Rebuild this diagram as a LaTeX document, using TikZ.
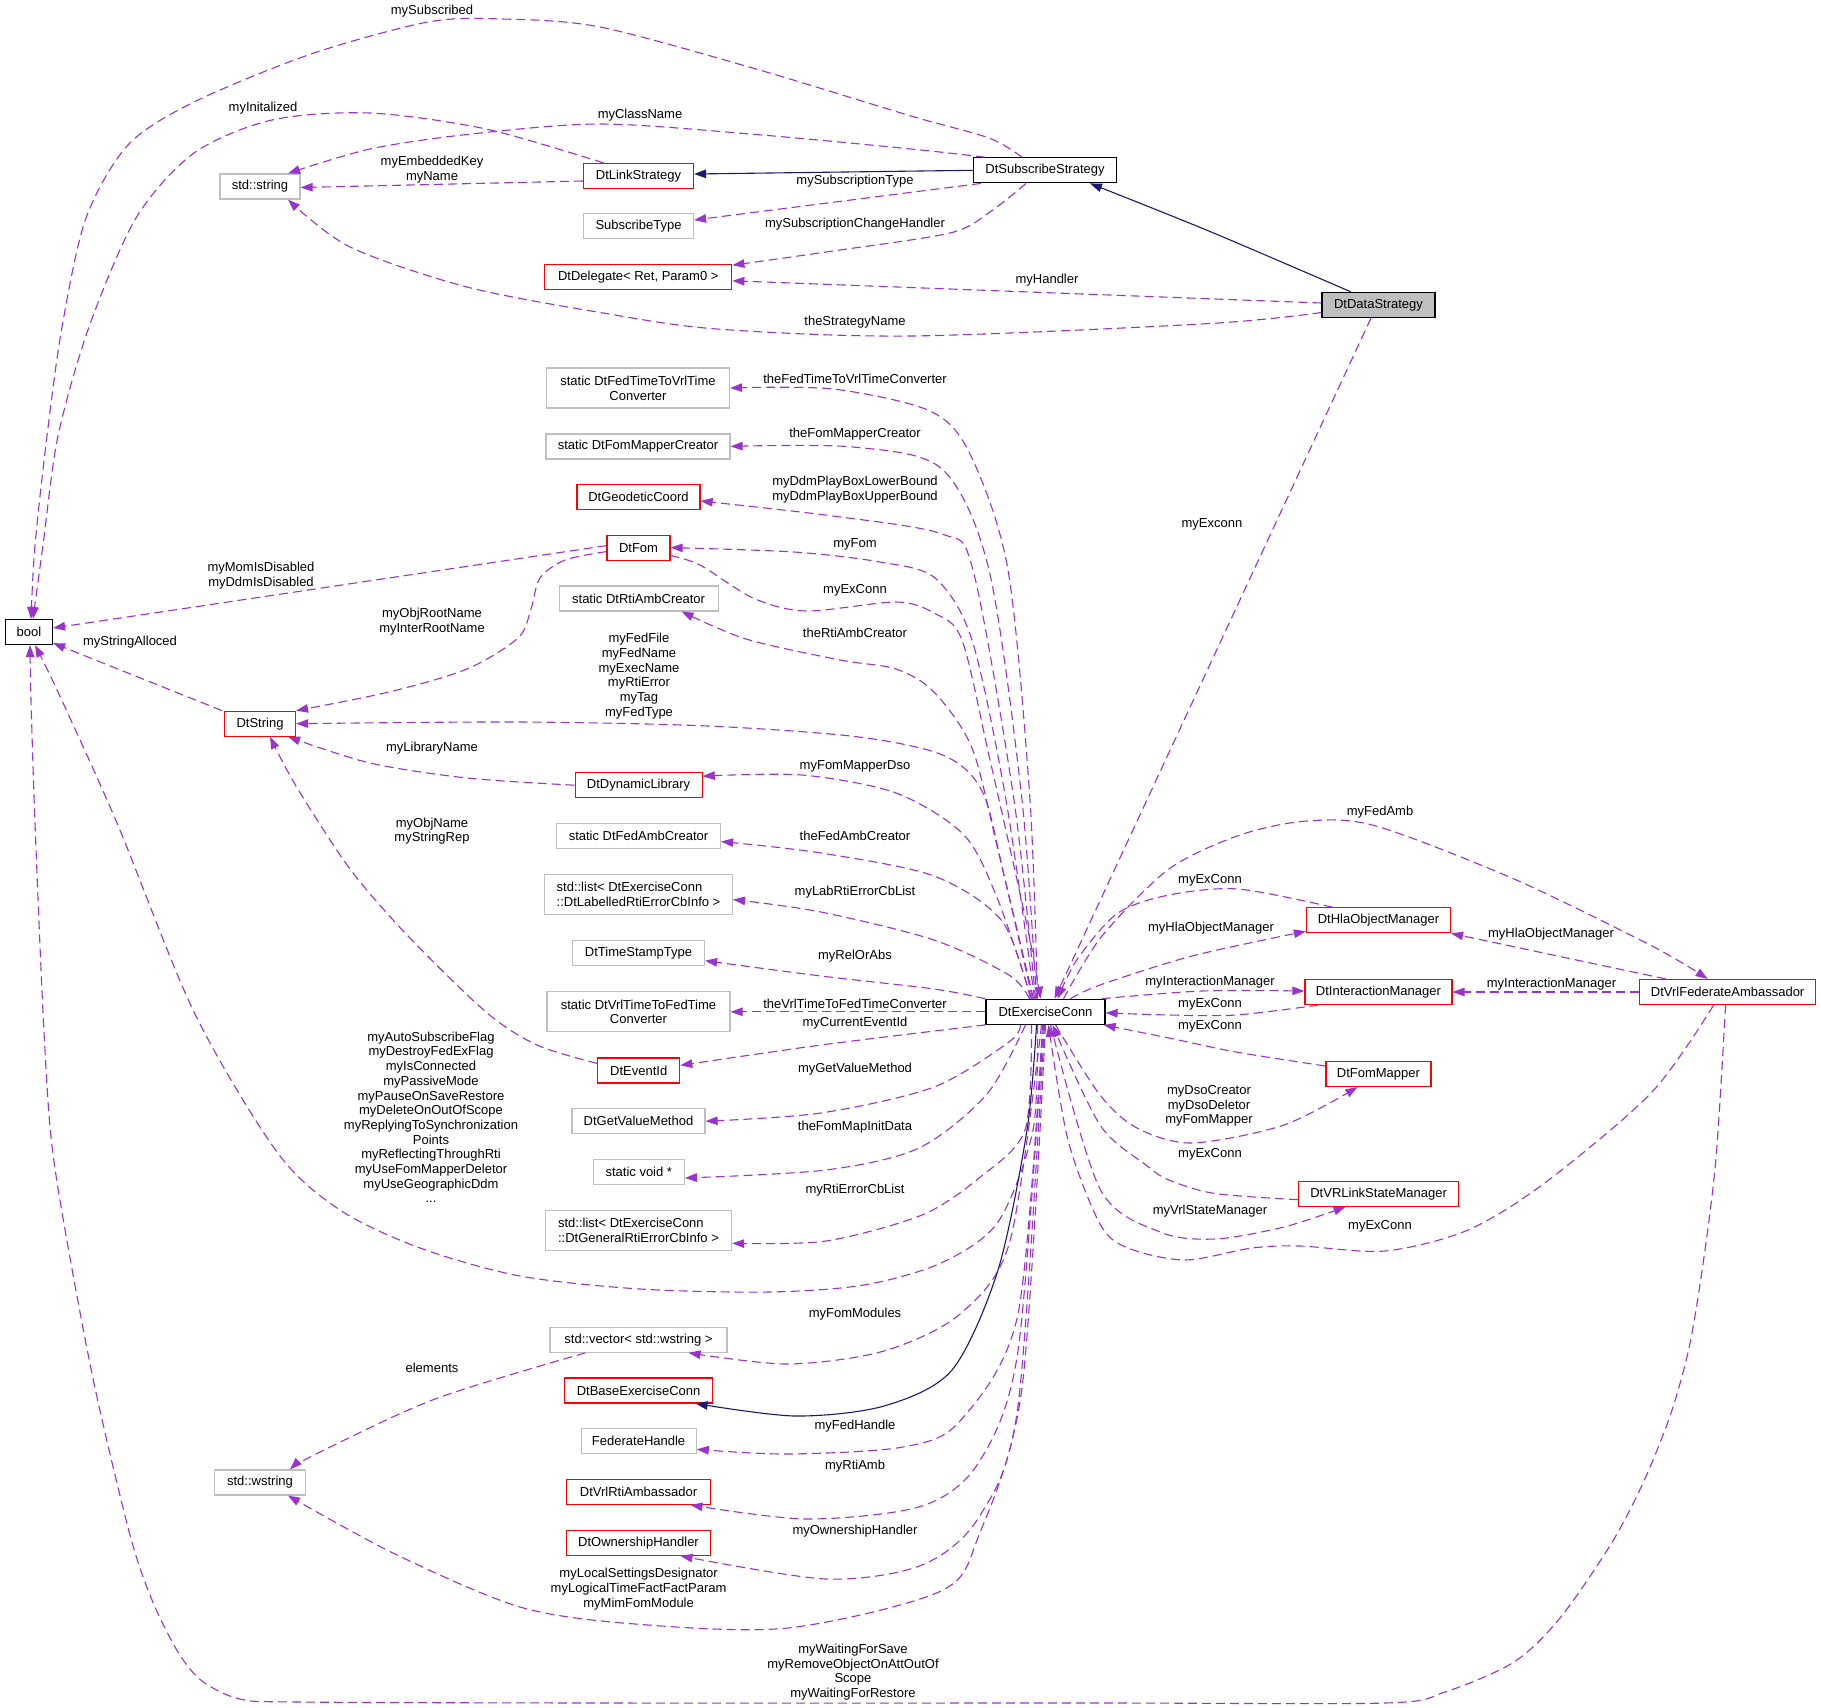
\documentclass[tikz,border=0pt]{standalone}
\usepackage{fontspec}
\setmainfont{Liberation Sans}
\usetikzlibrary{arrows.meta}
\definecolor{pur}{HTML}{9A32CD}
\definecolor{nav}{HTML}{191970}
\definecolor{gbd}{HTML}{BFBFBF}
\definecolor{rbd}{HTML}{FF0000}
\begin{document}
\begin{tikzpicture}[x=1pt,y=-1pt,
  font=\fontsize{13}{14.7}\selectfont,
  box/.style={draw, line width=1.2pt, minimum height=25pt, inner xsep=3pt, inner ysep=0pt, align=center},
  gbox/.style={box, draw=gbd},
  rbox/.style={box, draw=rbd},
  kbox/.style={box, draw=black},
  lbl/.style={inner sep=0pt, align=center},
  dep/.style={color=pur, line width=1.1pt, dash pattern=on 9pt off 5pt, -{Triangle[length=12pt,width=8.5pt]}},
  inh/.style={color=nav, line width=1.1pt, -{Triangle[length=12pt,width=8.5pt]}}]
\useasboundingbox (0,0) rectangle (1821,1708);

% ---------- nodes ----------
\node[kbox, minimum width=47pt] (bool) at (29,632) {bool};
\node[gbox, minimum width=80pt] (sstr) at (260,186.5) {std::string};
\node[rbox, minimum width=110pt] (link) at (638.5,176) {DtLinkStrategy};
\node[kbox, minimum width=143pt] (subs) at (1045,170.3) {DtSubscribeStrategy};
\node[gbox, minimum width=110pt] (stype) at (638.5,226) {SubscribeType};
\node[rbox, minimum width=187pt] (dele) at (638.3,277.3) {DtDelegate< Ret, Param0 >};
\node[kbox, fill=gbd, minimum width=113pt] (data) at (1378.5,305) {DtDataStrategy};
\node[gbox, minimum width=183pt, minimum height=40pt] (fedtt) at (638,388) {static DtFedTimeToVrlTime\\Converter};
\node[gbox, minimum width=184pt] (fmc) at (638,446.4) {static DtFomMapperCreator};
\node[rbox, minimum width=123pt] (geo) at (638.5,497) {DtGeodeticCoord};
\node[rbox, minimum width=63pt] (fom) at (638.5,547.6) {DtFom};
\node[gbox, minimum width=159pt] (rtic) at (638.6,598.4) {static DtRtiAmbCreator};
\node[rbox, minimum width=71pt] (dtstr) at (260,723.7) {DtString};
\node[rbox, minimum width=127pt] (dyn) at (638.6,785.2) {DtDynamicLibrary};
\node[gbox, minimum width=164pt] (fac) at (638.5,836) {static DtFedAmbCreator};
\node[gbox, minimum width=188pt, minimum height=40pt, align=left] (llist) at (638.5,894.5) {std::list< DtExerciseConn\\::DtLabelledRtiErrorCbInfo >};
\node[gbox, minimum width=132pt] (tst) at (638.5,953.2) {DtTimeStampType};
\node[gbox, minimum width=183pt, minimum height=40pt] (vrlt) at (638.5,1011.8) {static DtVrlTimeToFedTime\\Converter};
\node[kbox, minimum width=119pt] (ex) at (1045.5,1011.8) {DtExerciseConn};
\node[rbox, minimum width=82pt] (evt) at (638.7,1070.4) {DtEventId};
\node[gbox, minimum width=133pt] (gvm) at (638.5,1121.2) {DtGetValueMethod};
\node[gbox, minimum width=91pt] (svoid) at (638.8,1172) {static void *};
\node[gbox, minimum width=186pt, minimum height=40pt, align=left] (glist) at (638.5,1230.3) {std::list< DtExerciseConn\\::DtGeneralRtiErrorCbInfo >};
\node[gbox, minimum width=177pt] (vec) at (638.5,1339.7) {std::vector< std::wstring >};
\node[rbox, minimum width=148pt] (base) at (638.6,1390.4) {DtBaseExerciseConn};
\node[gbox, minimum width=115pt] (fedh) at (638.6,1441.3) {FederateHandle};
\node[rbox, minimum width=144pt] (vrti) at (638.5,1491.8) {DtVrlRtiAmbassador};
\node[rbox, minimum width=144pt] (own) at (638.5,1542.7) {DtOwnershipHandler};
\node[gbox, minimum width=91pt] (wstr) at (260,1482.5) {std::wstring};
\node[rbox, minimum width=144pt] (hla) at (1378.5,920.3) {DtHlaObjectManager};
\node[rbox, minimum width=147pt] (inter) at (1378.4,992) {DtInteractionManager};
\node[rbox, minimum width=176pt] (vfa) at (1727.6,992) {DtVrlFederateAmbassador};
\node[rbox, minimum width=105pt] (fmap) at (1378.4,1074) {DtFomMapper};
\node[rbox, minimum width=160pt] (vls) at (1378.6,1193.7) {DtVRLinkStateManager};

% ---------- labels ----------
\node[lbl] (l1) at (432,11.6) {mySubscribed};
\node[lbl] (l2) at (263,108.3) {myInitalized};
\node[lbl] (l3) at (640,115.6) {myClassName};
\node[lbl] (l4) at (432,169.6) {myEmbeddedKey\\myName};
\node[lbl] (l5) at (855,180.7) {mySubscriptionType};
\node[lbl] (l6) at (855,224.6) {mySubscriptionChangeHandler};
\node[lbl] (l7) at (1047,280.6) {myHandler};
\node[lbl] (l8) at (855,322.4) {theStrategyName};
\node[lbl] (l9) at (855,378.8) {theFedTimeToVrlTimeConverter};
\node[lbl] (l10) at (855,434.4) {theFomMapperCreator};
\node[lbl] (l11) at (855,489.5) {myDdmPlayBoxLowerBound\\myDdmPlayBoxUpperBound};
\node[lbl] (l12) at (855,544.5) {myFom};
\node[lbl] (l13) at (1212,524) {myExconn};
\node[lbl] (l14) at (261,575.8) {myMomIsDisabled\\myDdmIsDisabled};
\node[lbl] (l15) at (432,621.5) {myObjRootName\\myInterRootName};
\node[lbl] (l16) at (130,642.4) {myStringAlloced};
\node[lbl] (l17) at (855,590) {myExConn};
\node[lbl] (l18) at (855,632.6) {theRtiAmbCreator};
\node[lbl] (l19) at (639,676.1) {myFedFile\\myFedName\\myExecName\\myRtiError\\myTag\\myFedType};
\node[lbl] (l20) at (432,748.5) {myLibraryName};
\node[lbl] (l21) at (855,766.6) {myFomMapperDso};
\node[lbl] (l22) at (432,831) {myObjName\\myStringRep};
\node[lbl] (l23) at (855,835.5) {theFedAmbCreator};
\node[lbl] (l24) at (855,892.6) {myLabRtiErrorCbList};
\node[lbl] (l25) at (855,956.6) {myRelOrAbs};
\node[lbl] (l26) at (855,1003.7) {theVrlTimeToFedTimeConverter};
\node[lbl] (l27) at (855,1023.6) {myCurrentEventId};
\node[lbl] (l28) at (855,1068.7) {myGetValueMethod};
\node[lbl] (l29) at (855,1127.5) {theFomMapInitData};
\node[lbl] (l30) at (431,1117.4) {myAutoSubscribeFlag\\myDestroyFedExFlag\\myIsConnected\\myPassiveMode\\myPauseOnSaveRestore\\myDeleteOnOutOfScope\\myReplyingToSynchronization\\Points\\myReflectingThroughRti\\myUseFomMapperDeletor\\myUseGeographicDdm\\...};
\node[lbl] (l31) at (855,1190) {myRtiErrorCbList};
\node[lbl] (l32) at (855,1314.3) {myFomModules};
\node[lbl] (l33) at (432,1367.7) {elements};
\node[lbl] (l34) at (855,1426.4) {myFedHandle};
\node[lbl] (l35) at (855,1466.5) {myRtiAmb};
\node[lbl] (l36) at (855,1530.7) {myOwnershipHandler};
\node[lbl] (l37) at (638.6,1589) {myLocalSettingsDesignator\\myLogicalTimeFactFactParam\\myMimFomModule};
\node[lbl] (l38) at (853,1672.2) {myWaitingForSave\\myRemoveObjectOnAttOutOf\\Scope\\myWaitingForRestore};
\node[lbl] (l39) at (1380,812.4) {myFedAmb};
\node[lbl] (l40) at (1210,880) {myExConn};
\node[lbl] (l41) at (1211,928.5) {myHlaObjectManager};
\node[lbl] (l42) at (1551,934.4) {myHlaObjectManager};
\node[lbl] (l43) at (1210,982) {myInteractionManager};
\node[lbl] (l44) at (1551.5,983.8) {myInteractionManager};
\node[lbl] (l45) at (1210,1004.2) {myExConn};
\node[lbl] (l46) at (1210,1025.8) {myExConn};
\node[lbl] (l47) at (1209,1106) {myDsoCreator\\myDsoDeletor\\myFomMapper};
\node[lbl] (l48) at (1210,1154.6) {myExConn};
\node[lbl] (l49) at (1210,1211.5) {myVrlStateManager};
\node[lbl] (l50) at (1380,1226) {myExConn};

% ---------- upper edges ----------
\draw[dep] plot[smooth] coordinates {([xshift=-23pt]subs.north) (989,138) (911,116) (756,69) (600,27) (502,19) (428,22) (311,54) (194,102) (128,145) (86,218) (62,327) (47,436) (35,545) ([xshift=2pt]bool.north)};
\draw[dep] plot[smooth] coordinates {([xshift=-35pt]link.north) (486,129) (370,113) (272,120) (194,153) (136,218) (89,327) (58,436) (43,545) ([xshift=4pt]bool.north)};
\draw[dep] plot[smooth] coordinates {([xshift=-60pt]subs.north) (911,149) (756,134.5) (600,124) (467,134.5) (370,149) ([xshift=28pt]sstr.north)};
\draw[dep] ([yshift=-5pt]link.west) -- ([yshift=-1pt]sstr.east);
\draw[inh] (subs.west) -- ([yshift=2pt]link.east);
\draw[dep] ([xshift=-64pt]subs.south) -- ([yshift=6pt]stype.east);
\draw[dep] plot[smooth] coordinates {([xshift=-19pt]subs.south) (990,212) (950,233) (833,251) ([yshift=-1pt]dele.north east)};
\draw[dep] ([yshift=2pt]data.west) -- ([yshift=-3.5pt]dele.east);
\draw[dep] plot[smooth] coordinates {([yshift=-7.5pt]data.west) (1210,323.5) (911,336) (717,329) (603,313) (467,287) (350,247) ([xshift=28pt]sstr.south)};
\draw[inh] plot[smooth] coordinates {([xshift=-27.5pt]data.north) (1210,231.5) ([xshift=45pt]subs.south)};
\draw[dep] ([xshift=-7.5pt]data.south) -- ([xshift=9pt]ex.north);
\draw[dep] ([yshift=2pt]fom.west) -- ([yshift=4pt]bool.east);
\draw[dep] plot[smooth] coordinates {([yshift=-4pt]fom.west) (565,560) (540,578) (531,609) (518,638) (467,669) (389,692) (dtstr.north east)};
\draw[dep] ([xshift=-38pt]dtstr.north) -- ([yshift=2pt]bool.south east);
\draw[dep] plot[smooth] coordinates {(dyn.west) (467,778) (370,763) ([xshift=-8pt]dtstr.south east)};
\draw[dep] plot[smooth] coordinates {([yshift=7pt]evt.west) (537,1045) (486,1012) (408,936) (350,869) (296,786) ([xshift=10pt]dtstr.south)};
\draw[dep] plot[smooth] coordinates {([xshift=-53pt]vec.south) (435,1399) (316,1454) ([xshift=30pt]wstr.north)};

% ---------- DtExerciseConn to the left column (top) ----------
\draw[dep] plot[smooth] coordinates {([xshift=-8pt]ex.north) (1030,800) (1008,570) (970,454) (930,411) (833,389) (fedtt.east)};
\draw[dep] plot[smooth] coordinates {([xshift=-9pt]ex.north) (1022,800) (989,570) (942,469) (853,447) (fmc.east)};
\draw[dep] plot[smooth] coordinates {([xshift=-10pt]ex.north) (1014,800) (973,570) (942,534) (833,516) ([yshift=-4pt]geo.east)};
\draw[dep] plot[smooth] coordinates {([xshift=-11pt]ex.north) (1006,800) (972,640) (935,578) (880,562) (794,552) (fom.east)};
\draw[dep] plot[smooth] coordinates {([yshift=-8pt]fom.east) (700,565) (753,598) (806,611) (896,602) (934,613) (962,640) (990,760) (1028,930) ([xshift=-5pt]ex.north)};
\draw[dep] plot[smooth] coordinates {([xshift=-12pt]ex.north) (998,850) (972,748) (934,692) (896,669) (840,660) (746,639) ([xshift=43pt]rtic.south)};
\draw[dep] plot[smooth] coordinates {([xshift=-13pt]ex.north) (1005,880) (983,793) (945,756) (859,737) (708,726) (520,722) (dtstr.east)};
\draw[dep] plot[smooth] coordinates {([xshift=-14pt]ex.north) (998,900) (964,835) (896,793) (802,775) ([yshift=9pt]dyn.east)};
\draw[dep] plot[smooth] coordinates {([xshift=-15pt]ex.north) (1002,921) (934,876) (821,853) ([yshift=-5.5pt]fac.east)};
\draw[dep] plot[smooth] coordinates {([xshift=-16pt]ex.north) (1009,975) (934,940) (821,912) ([yshift=-5pt]llist.east)};
\draw[dep] plot[smooth] coordinates {(ex.north west) (934,989) (821,976) ([yshift=-7.5pt]tst.east)};
\draw[dep] (ex.west) -- (vrlt.east);

% ---------- DtExerciseConn to the left column (bottom) ----------
\draw[dep] plot[smooth] coordinates {(ex.south west) (821,1045) ([yshift=5pt]evt.east)};
\draw[dep] plot[smooth] coordinates {([xshift=-25pt]ex.south) (1009,1042) (934,1087) (821,1113) (gvm.east)};
\draw[dep] plot[smooth] coordinates {([xshift=-20pt]ex.south) (987,1094) (919,1148) (826,1170) ([yshift=-6pt]svoid.east)};
\draw[dep] plot[smooth] coordinates {([xshift=-14pt]ex.south) (1025,1130) (979,1178) (922,1215) (826,1241) ([yshift=-13pt]glist.east)};
\draw[dep] plot[smooth] coordinates {([xshift=-8pt]ex.south) (1033,1130) (998,1222) (941,1263) (864,1285) (769,1292) (640,1289) (520,1276) (420,1248) (340,1210) (277,1152) (194,1012) (117,823) (58,692) ([xshift=6pt]bool.south)};
\draw[dep] plot[smooth] coordinates {([xshift=-4pt]ex.south) (1010,1241) (960,1314) (884,1351) (788,1364) ([xshift=50pt]vec.south)};
\draw[inh] plot[smooth] coordinates {([xshift=-9pt]ex.south) (1027,1130) (998,1270) (952,1370) (884,1406) (795,1416) ([xshift=57pt]base.south)};
\draw[dep] plot[smooth] coordinates {([xshift=-3pt]ex.south) (1018,1314) (960,1421) (903,1447) (788,1454) ([yshift=-8pt]fedh.east)};
\draw[dep] plot[smooth] coordinates {([xshift=-2pt]ex.south) (1018,1351) (979,1462) (922,1506) (807,1519) ([xshift=52pt]vrti.south)};
\draw[dep] plot[smooth] coordinates {([xshift=-1pt]ex.south) (1018,1406) (979,1517) (922,1565) (826,1579) ([xshift=42pt]own.south)};
\draw[dep] plot[smooth] coordinates {(ex.south) (1022,1388) (979,1535) (941,1591) (788,1628) (635,1624) (520,1607) (395,1554) ([xshift=28pt]wstr.south)};
\draw[dep] plot[smooth] coordinates {([xshift=-2pt]vfa.south) (1716,1158) (1703,1264) (1689,1348) (1670,1416) (1643,1483) (1611,1544) (1560,1618) (1514,1662) (1445,1692) (1385,1703) (1100,1703) (600,1703) (300,1702) (240,1699) (202,1681) (178,1652) (152,1600) (130,1535) (95,1388) (67,1241) (51,1137) (43,1012) (35,823) (31,700) ([xshift=1pt]bool.south)};

% ---------- right side ----------
\draw[dep] plot[smooth] coordinates {([xshift=18pt]ex.north) (1102,936) (1169,869) (1240,835) (1307,821) (1376,826) (1514,879) (1652,946) ([xshift=-20pt]vfa.north)};
\draw[dep] plot[smooth] coordinates {([xshift=-46pt]hla.north) (1238,889) (1169,895) (1118,913) (1078,958) ([xshift=12pt]ex.north)};
\draw[dep] plot[smooth] coordinates {([xshift=25pt]ex.north) (1100,985) (1192,956) ([yshift=-11pt]hla.west)};
\draw[dep] ([xshift=-62pt]vfa.north) -- (hla.south east);
\draw[dep] plot[smooth] coordinates {([xshift=-4pt]ex.north east) (1202,991) ([yshift=1pt]inter.west)};
\draw[dep] plot[smooth] coordinates {([xshift=-60pt]inter.south) (1236,1015) (1169,1015) ([yshift=-1pt]ex.east)};
\draw[dep] (vfa.west) -- (inter.east);
\draw[dep] plot[smooth] coordinates {([yshift=8pt]fmap.west) (1236,1052) (1169,1038) ([xshift=-2pt]ex.south east)};
\draw[dep] plot[smooth] coordinates {([xshift=10pt]ex.south) (1100,1095) (1137,1128) (1192,1143) (1284,1125) ([xshift=-21pt]fmap.south)};
\draw[dep] plot[smooth] coordinates {([yshift=-6pt]vls.west) (1215,1193.5) (1169,1180) (1146,1165) (1100,1125) ([xshift=7pt]ex.south)};
\draw[dep] plot[smooth] coordinates {([xshift=5pt]ex.south) (1100,1189) (1160,1232) (1215,1239) (1284,1227) ([xshift=-33pt]vls.south)};
\draw[dep] plot[smooth] coordinates {([xshift=-14pt]vfa.south) (1652,1092) (1546,1182) (1468,1230) (1385,1251) (1300,1246) (1252,1248) (1185,1260) (1128,1248) (1100,1224) (1068,1140) ([xshift=3pt]ex.south)};
\end{tikzpicture}
\end{document}
